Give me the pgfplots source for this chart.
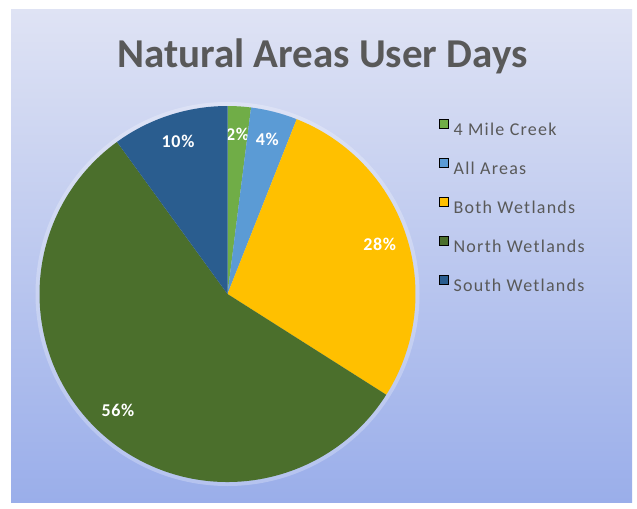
\documentclass[border=0pt]{standalone}
\usepackage{fontspec}
\setmainfont{Carlito}
\usepackage{pgfplots}
\pgfplotsset{compat=1.18}
\usepackage{pgfplotstable}

\definecolor{cA}{HTML}{70AD47}
\definecolor{cB}{HTML}{5B9BD5}
\definecolor{cC}{HTML}{FFC000}
\definecolor{cD}{HTML}{4B6F2C}
\definecolor{cE}{HTML}{2A5D8F}
\definecolor{txtgray}{HTML}{595959}
\definecolor{bgtop}{HTML}{DFE3F4}
\definecolor{bgbot}{HTML}{9AAEEA}

\newcommand\legfont{\fontsize{18}{20}\selectfont\addfontfeatures{LetterSpace=7}}
\newcommand\lblfont{\fontsize{18}{20}\selectfont\bfseries\addfontfeatures{LetterSpace=4}}
\newcommand\titlefont{\fontsize{41}{48}\selectfont\bfseries}

% share of user days (percent), slice colour
\pgfplotstableread{
value col
2  cA
4  cB
28 cC
56 cD
10 cE
}\piedata

\begin{document}
\begin{tikzpicture}
\begin{axis}[
  scale only axis, width=637pt, height=502pt,
  xmin=0, xmax=637, ymin=0, ymax=502, y dir=reverse,
  axis lines=none, clip=false,
  legend image code/.code={\fill[#1] (0pt,3pt) rectangle (9pt,12pt);},
  legend cell align=left,
  legend style={at={(axis cs:439,119)}, anchor=north west,
    draw=none, fill=none, inner sep=0pt, font=\legfont, text=txtgray,
    row sep=18.4pt, column sep=5pt,
    nodes={inner sep=0pt, text height=12.5pt, text depth=4pt}},
]
\fill[white] (axis cs:0,0) rectangle (axis cs:637,502);
\shade[top color=bgtop, bottom color=bgbot] (axis cs:11,9) rectangle (axis cs:632,502);
\fill[white, opacity=0.25] (axis cs:227.5,294) circle[radius=192pt];

\node[anchor=base, font=\titlefont, text=txtgray] at (axis cs:322.5,67) {Natural Areas User Days};

\gdef\cum{0}
\pgfplotsinvokeforeach{0,...,4}{
  \pgfplotstablegetelem{#1}{value}\of\piedata
  \let\pv\pgfplotsretval
  \pgfplotstablegetelem{#1}{col}\of\piedata
  \let\pc\pgfplotsretval
  \pgfmathsetmacro\angA{90-3.6*\cum}
  \pgfmathsetmacro\angB{\angA-3.6*\pv}
  \pgfmathsetmacro\angM{(\angA+\angB)/2}
  \pgfmathsetmacro\newcum{\cum+\pv}
  \xdef\cum{\newcum}
  \edef\tmp{%
    \noexpand\fill[\pc] (axis cs:227.5,294) -- ++(\angA:188pt)
      arc[start angle=\angA, end angle=\angB, radius=188pt] -- cycle;
    \noexpand\path (axis cs:227.5,294) ++(\angM:160pt)
      node[text=white, font=\noexpand\lblfont] {\pv\noexpand\%};
  }
  \tmp
}

\addlegendimage{fill=cA}\addlegendentry{4 Mile Creek}
\addlegendimage{fill=cB}\addlegendentry{All Areas}
\addlegendimage{fill=cC}\addlegendentry{Both Wetlands}
\addlegendimage{fill=cD}\addlegendentry{North Wetlands}
\addlegendimage{fill=cE}\addlegendentry{South Wetlands}
\end{axis}
\end{tikzpicture}
\end{document}
